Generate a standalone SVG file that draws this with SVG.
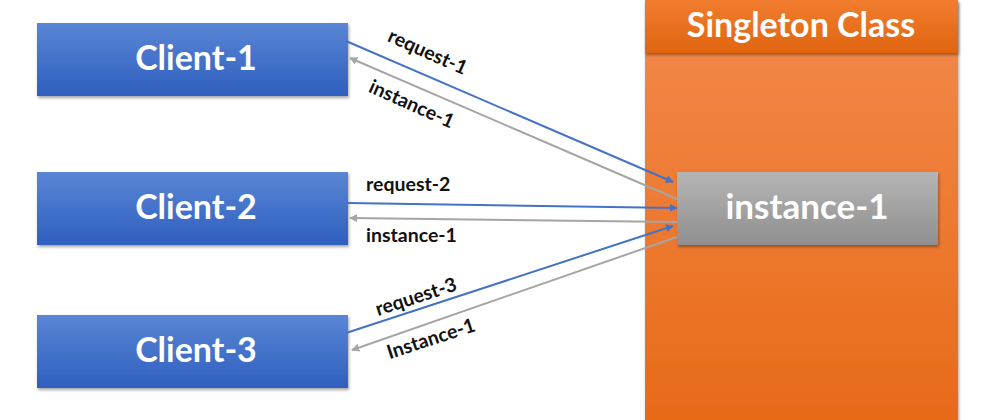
<svg xmlns="http://www.w3.org/2000/svg" width="1000" height="420" viewBox="0 0 1000 420">
<defs>
<linearGradient id="gBlue" x1="0" y1="0" x2="0" y2="1"><stop offset="0" stop-color="#5a86d5"/><stop offset="1" stop-color="#2f5fbf"/></linearGradient>
<linearGradient id="gCol" x1="0" y1="0" x2="0" y2="1"><stop offset="0" stop-color="#f28a4c"/><stop offset="1" stop-color="#e86a18"/></linearGradient>
<linearGradient id="gHead" x1="0" y1="0" x2="0" y2="1"><stop offset="0" stop-color="#f27c30"/><stop offset="1" stop-color="#e0650f"/></linearGradient>
<linearGradient id="gGray" x1="0" y1="0" x2="0" y2="1"><stop offset="0" stop-color="#b5b5b5"/><stop offset="1" stop-color="#8f8f8f"/></linearGradient>
<filter id="sh" x="-10%" y="-10%" width="120%" height="130%"><feDropShadow dx="1" dy="2" stdDeviation="1.5" flood-color="#000" flood-opacity="0.35"/></filter>
<marker id="aBlue" viewBox="0 0 10 10" refX="9" refY="5" markerWidth="8" markerHeight="8" orient="auto" markerUnits="userSpaceOnUse"><path d="M0,0 L10,5 L0,10 z" fill="#4472c4"/></marker>
<marker id="aGray" viewBox="0 0 10 10" refX="9" refY="5" markerWidth="8" markerHeight="8" orient="auto" markerUnits="userSpaceOnUse"><path d="M0,0 L10,5 L0,10 z" fill="#a5a5a5"/></marker>
</defs>
<style>
.box{font-family:Lato,"Open Sans","Liberation Sans",sans-serif;font-weight:bold;fill:#fff;text-anchor:middle}
.lbl{font-family:Lato,"Open Sans","Liberation Sans",sans-serif;font-weight:bold;fill:#111;font-size:19.5px}
.req{stroke:#4472c4;stroke-width:2;fill:none;marker-end:url(#aBlue)}
.ret{stroke:#a5a5a5;stroke-width:2;fill:none;marker-end:url(#aGray)}
</style>
<rect width="1000" height="420" fill="#fff"/>
<g id="singleton">
<rect x="645" y="0" width="313" height="420" fill="url(#gCol)" filter="url(#sh)"/>
<rect x="645" y="0" width="313" height="53" fill="url(#gHead)" filter="url(#sh)"/>
<text class="box" x="801" y="37" font-size="34">Singleton Class</text>
</g>
<g id="instance">
<rect x="677" y="172" width="261" height="73" fill="url(#gGray)" filter="url(#sh)"/>
<text class="box" x="807" y="219" font-size="35">instance-1</text>
</g>
<g id="client1">
<rect x="37" y="23" width="311" height="73" fill="url(#gBlue)" filter="url(#sh)"/>
<text class="box" x="196" y="70" font-size="34">Client-1</text>
</g>
<g id="client2">
<rect x="37" y="172" width="311" height="73" fill="url(#gBlue)" filter="url(#sh)"/>
<text class="box" x="196" y="219" font-size="34">Client-2</text>
</g>
<g id="client3">
<rect x="37" y="315" width="311" height="73" fill="url(#gBlue)" filter="url(#sh)"/>
<text class="box" x="196" y="362" font-size="34">Client-3</text>
</g>
<g id="connectors">
<line class="req" x1="346" y1="41" x2="673" y2="182"/>
<line class="ret" x1="677" y1="199" x2="350" y2="58"/>
<line class="req" x1="348" y1="203" x2="677" y2="208"/>
<line class="ret" x1="677" y1="222" x2="350" y2="218"/>
<line class="req" x1="346" y1="333" x2="673" y2="226"/>
<line class="ret" x1="677" y1="237" x2="352" y2="350"/>
<text class="lbl" transform="translate(425,58) rotate(24)" text-anchor="middle">request-1</text>
<text class="lbl" transform="translate(409,110) rotate(24)" text-anchor="middle">instance-1</text>
<text class="lbl" x="366" y="191">request-2</text>
<text class="lbl" x="366" y="242">instance-1</text>
<text class="lbl" transform="translate(418,303) rotate(-18)" text-anchor="middle">request-3</text>
<text class="lbl" transform="translate(433,345) rotate(-18)" text-anchor="middle">Instance-1</text>
</g>
</svg>
